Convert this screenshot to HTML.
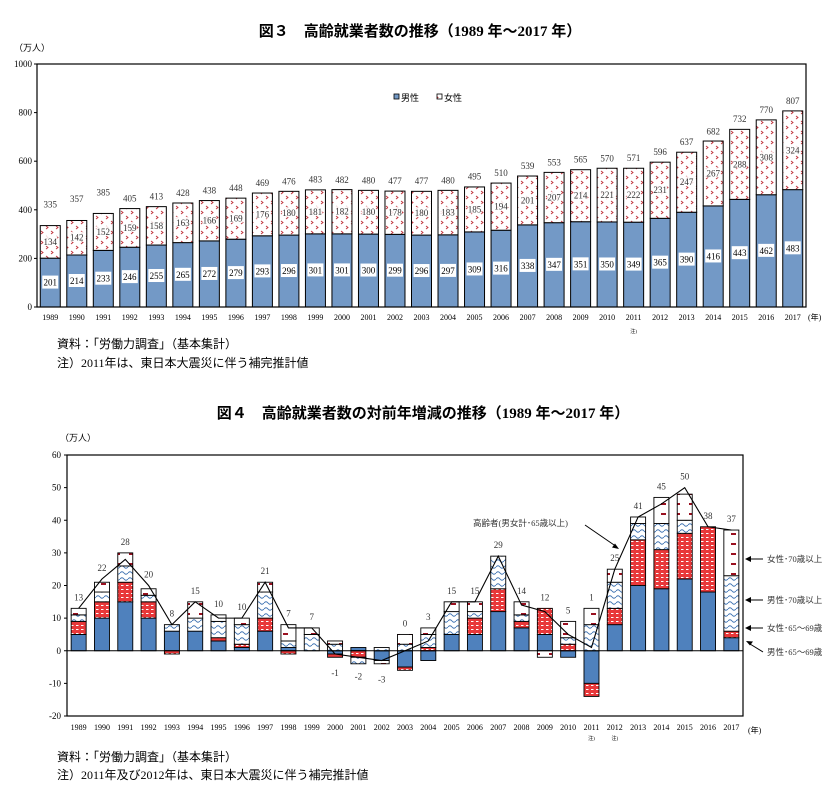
<!DOCTYPE html>
<html><head><meta charset="utf-8">
<style>
body{margin:0;background:#fff;font-family:"Liberation Serif","Noto Serif CJK SC","Noto Sans CJK JP",serif;}
svg text{font-family:"Liberation Serif","Noto Sans CJK JP",serif;}
</style></head>
<body>
<svg id="chart" width="840" height="801" viewBox="0 0 840 801" xmlns="http://www.w3.org/2000/svg">
<defs>
<pattern id="pf" width="10" height="10" patternUnits="userSpaceOnUse"><rect width="10" height="10" fill="#fff"/><path d="M1 1l2 1.5-2 1.5M6 6l2 1.5-2 1.5" stroke="#c0303a" stroke-width="0.9" fill="none"/></pattern>
<pattern id="pred" width="5" height="4" patternUnits="userSpaceOnUse"><rect width="5" height="4" fill="#e8383a"/><path d="M1 1.5h2.5" stroke="#fff" stroke-width="1"/></pattern>
<pattern id="pwave" width="8" height="6" patternUnits="userSpaceOnUse"><rect width="8" height="6" fill="#fff"/><path d="M0 3q2-2.5 4 0t4 0" stroke="#3a6fb0" stroke-width="0.9" fill="none"/></pattern>
<pattern id="pdash" width="14" height="10" patternUnits="userSpaceOnUse"><rect width="14" height="10" fill="#fff"/><path d="M3 4h5" stroke="#9a1020" stroke-width="2"/></pattern>
</defs>
<text x="420" y="36" text-anchor="middle" font-size="15" font-weight="bold" font-family="Liberation Sans,Noto Sans CJK JP,sans-serif">図３　高齢就業者数の推移（1989 年～2017 年）</text>
<text x="14" y="51" font-size="9">（万人）</text>
<g id="c1"></g>
<text x="57" y="348" font-size="12">資料：「労働力調査」（基本集計）</text>
<text x="57" y="367" font-size="12">注）2011年は、東日本大震災に伴う補完推計値</text>
<text x="423" y="418" text-anchor="middle" font-size="15" font-weight="bold" font-family="Liberation Sans,Noto Sans CJK JP,sans-serif">図４　高齢就業者数の対前年増減の推移（1989 年～2017 年）</text>
<text x="60" y="441" font-size="9">（万人）</text>
<g id="c2"></g>
<text x="57" y="761" font-size="12">資料：「労働力調査」（基本集計）</text>
<text x="57" y="779" font-size="12">注）2011年及び2012年は、東日本大震災に伴う補完推計値</text>
</svg>
<script>
const years = ["1989","1990","1991","1992","1993","1994","1995","1996","1997","1998","1999","2000","2001","2002","2003","2004","2005","2006","2007","2008","2009","2010","2011","2012","2013","2014","2015","2016","2017"];
const male = [201,214,233,246,255,265,272,279,293,296,301,301,300,299,296,297,309,316,338,347,351,350,349,365,390,416,443,462,483];
const female = [134,142,152,159,158,163,166,169,176,180,181,182,180,178,180,183,185,194,201,207,214,221,222,231,247,267,288,308,324];
const totals = [335,357,385,405,413,428,438,448,469,476,483,482,480,477,477,480,495,510,539,553,565,570,571,596,637,682,732,770,807];
const c1Ticks = [0,200,400,600,800,1000];

const m6569 = [5,10,15,10,6,6,3,1,6,1,0,-1,1,-3,-5,-3,5,5,12,7,5,-2,-10,8,20,19,22,18,4];
const f6569 = [4,5,6,5,-1,0,1,1,4,-1,0,-1,-2,0,-1,1,0,5,7,2,8,2,-4,5,14,12,14,20,2];
const m70 = [2,3,5,2,2,4,5,6,8,2,5,2,-2,1,2,4,7,2,10,2,0,2,8,8,5,8,4,0,17];
const f70 = [2,3,4,2,0,5,2,2,3,5,2,1,0,-1,3,2,3,3,0,4,-2,5,5,4,2,8,8,0,14];
const diffTotals = [13,22,28,20,8,15,10,10,21,7,7,-1,-2,-3,0,3,15,15,29,14,12,5,1,25,41,45,50,38,37];
const c2Ticks = [-20,-10,0,10,20,30,40,50,60];

const NS="http://www.w3.org/2000/svg";
function mk(parent,tag,attrs,txt){const e=document.createElementNS(NS,tag);for(const k in attrs)e.setAttribute(k,attrs[k]);if(txt!==undefined)e.textContent=txt;parent.appendChild(e);return e;}

// Chart 1
const g1=document.getElementById('c1');
const L1=37,R1=806,T1=64,B1=307;
const y1=v=>B1-(v/1000)*(B1-T1);
const slot1=(R1-L1)/years.length;
const x1=i=>L1+slot1*(i+0.5);
c1Ticks.forEach(t=>{
 const tk=mk(g1,'text',{x:L1-5,y:y1(t)+3,'font-size':9,'text-anchor':'end'},t);
 
 
 mk(g1,'line',{x1:L1-3,x2:L1,y1:y1(t),y2:y1(t),stroke:'#000'});
});
years.forEach((yr,i)=>{
 const bw=20,bx=x1(i)-bw/2;
 const mb=mk(g1,'rect',{x:bx,y:y1(male[i]),width:bw,height:y1(0)-y1(male[i]),fill:'#7399c6',stroke:'#000','stroke-width':1});
 
 
 const fb=mk(g1,'rect',{x:bx,y:y1(male[i]+female[i]),width:bw,height:y1(male[i])-y1(male[i]+female[i]),fill:'url(#pf)',stroke:'#000','stroke-width':1});
 
 
 const ym=(y1(0)+y1(male[i]))/2;
 mk(g1,'rect',{x:x1(i)-8,y:ym-7,width:16,height:13,fill:'#fff'});
 const ml=mk(g1,'text',{x:x1(i),y:ym+3,'font-size':9,'text-anchor':'middle'},male[i]);
 
 
 const yf=(y1(male[i])+y1(male[i]+female[i]))/2;
 mk(g1,'rect',{x:x1(i)-7,y:yf-6,width:14,height:10,fill:'#fff','fill-opacity':0.85});
 const fl=mk(g1,'text',{x:x1(i),y:yf+3,'font-size':9,'text-anchor':'middle',fill:'#333'},female[i]);
 
 
 const tl=mk(g1,'text',{x:x1(i),y:y1(totals[i])-(i<3?18:7),'font-size':9,'text-anchor':'middle',fill:'#333'},totals[i]);
 
 
 const xl=mk(g1,'text',{x:x1(i),y:320,'font-size':8,'text-anchor':'middle'},yr);
 
 
});
mk(g1,'rect',{x:L1,y:T1,width:R1-L1,height:B1-T1,fill:'none',stroke:'#000','stroke-width':1.2});
const u1=mk(g1,'text',{x:808,y:320,'font-size':8},'(年)');


mk(g1,'text',{x:x1(22),y:333,'font-size':5,'text-anchor':'middle'},'注)');
const lg1=mk(g1,'g',{});


mk(lg1,'rect',{x:394,y:94,width:5,height:5,fill:'#7399c6',stroke:'#000','stroke-width':0.8});
mk(lg1,'text',{x:401,y:101,'font-size':9},'男性');
const lg2=mk(g1,'g',{});


mk(lg2,'rect',{x:437,y:94,width:5,height:5,fill:'url(#pf)',stroke:'#000','stroke-width':0.8});
mk(lg2,'text',{x:444,y:101,'font-size':9},'女性');

// Chart 2
const g2=document.getElementById('c2');
const L2=67,R2=743,T2=455,B2=716;
const y2=v=>B2-((v+20)/80)*(B2-T2);
const slot2=(R2-L2)/years.length;
const x2=i=>L2+slot2*(i+0.5);
c2Ticks.forEach(t=>{
 const tk=mk(g2,'text',{x:L2-6,y:y2(t)+3,'font-size':9,'text-anchor':'end'},t);
 
 
 mk(g2,'line',{x1:L2-3,x2:L2,y1:y2(t),y2:y2(t),stroke:'#000'});
});
const series=[[m6569,'#4f81bd','male-65-69'],[f6569,'url(#pred)','female-65-69'],[m70,'url(#pwave)','male-70plus'],[f70,'url(#pdash)','female-70plus']];
years.forEach((yr,i)=>{
 const bw=15,bx=x2(i)-bw/2;let pos=0,neg=0;
 series.forEach(([arr,fill,nm])=>{
  const v=arr[i];if(v===0)return;
  let a,b;if(v>0){a=pos;b=pos+v;pos=b;}else{a=neg;b=neg+v;neg=b;}
  const r=mk(g2,'rect',{x:bx,y:Math.min(y2(a),y2(b)),width:bw,height:Math.abs(y2(a)-y2(b)),fill:fill,stroke:'#000','stroke-width':0.9});
  
  
 });
 const xl=mk(g2,'text',{x:x2(i),y:730,'font-size':8,'text-anchor':'middle'},yr);
 
 
 const v=diffTotals[i];
 const lb=mk(g2,'text',{x:x2(i),y:v<0?y2(v)+22:y2(Math.max(v,pos))-8,'font-size':9,'text-anchor':'middle',fill:'#333'},v);
 
 
});
mk(g2,'line',{x1:L2,x2:R2,y1:y2(0),y2:y2(0),stroke:'#000','stroke-width':1});
const pl=mk(g2,'polyline',{points:diffTotals.map((v,i)=>x2(i)+','+y2(v)).join(' '),fill:'none',stroke:'#000','stroke-width':1.1});


mk(g2,'rect',{x:L2,y:T2,width:R2-L2,height:B2-T2,fill:'none',stroke:'#000','stroke-width':1.2});
const u2=mk(g2,'text',{x:748,y:733,'font-size':8},'(年)');


mk(g2,'text',{x:x2(22),y:740,'font-size':5,'text-anchor':'middle'},'注)');
mk(g2,'text',{x:x2(23),y:740,'font-size':5,'text-anchor':'middle'},'注)');
const ann=mk(g2,'text',{x:473,y:526,'font-size':8.5,fill:'#333'},'高齢者(男女計･65歳以上)');


mk(g2,'line',{x1:585,y1:525,x2:617,y2:547,stroke:'#000'});
mk(g2,'path',{d:'M619 549l-7-1.5 3-4z',fill:'#000'});
const side=[['女性･70歳以上',562,'legend-female-70plus'],['男性･70歳以上',603,'legend-male-70plus'],['女性･65～69歳',631,'legend-female-65-69'],['男性･65～69歳',655,'legend-male-65-69']];
side.forEach(([t,yy,nm],k)=>{
 const g=mk(g2,'g',{});
 
 
 if(k<3){mk(g,'line',{x1:750,y1:yy-3,x2:763,y2:yy-3,stroke:'#000'});mk(g,'path',{d:`M745 ${yy-3}l6-3v6z`,fill:'#000'});}
 else{mk(g,'line',{x1:750,y1:644,x2:763,y2:652,stroke:'#000'});mk(g,'path',{d:'M746 641l7 0.5-3 4z',fill:'#000'});}
 mk(g,'text',{x:767,y:yy,'font-size':8.5,fill:'#333'},t);
});
</script>
</body></html>
